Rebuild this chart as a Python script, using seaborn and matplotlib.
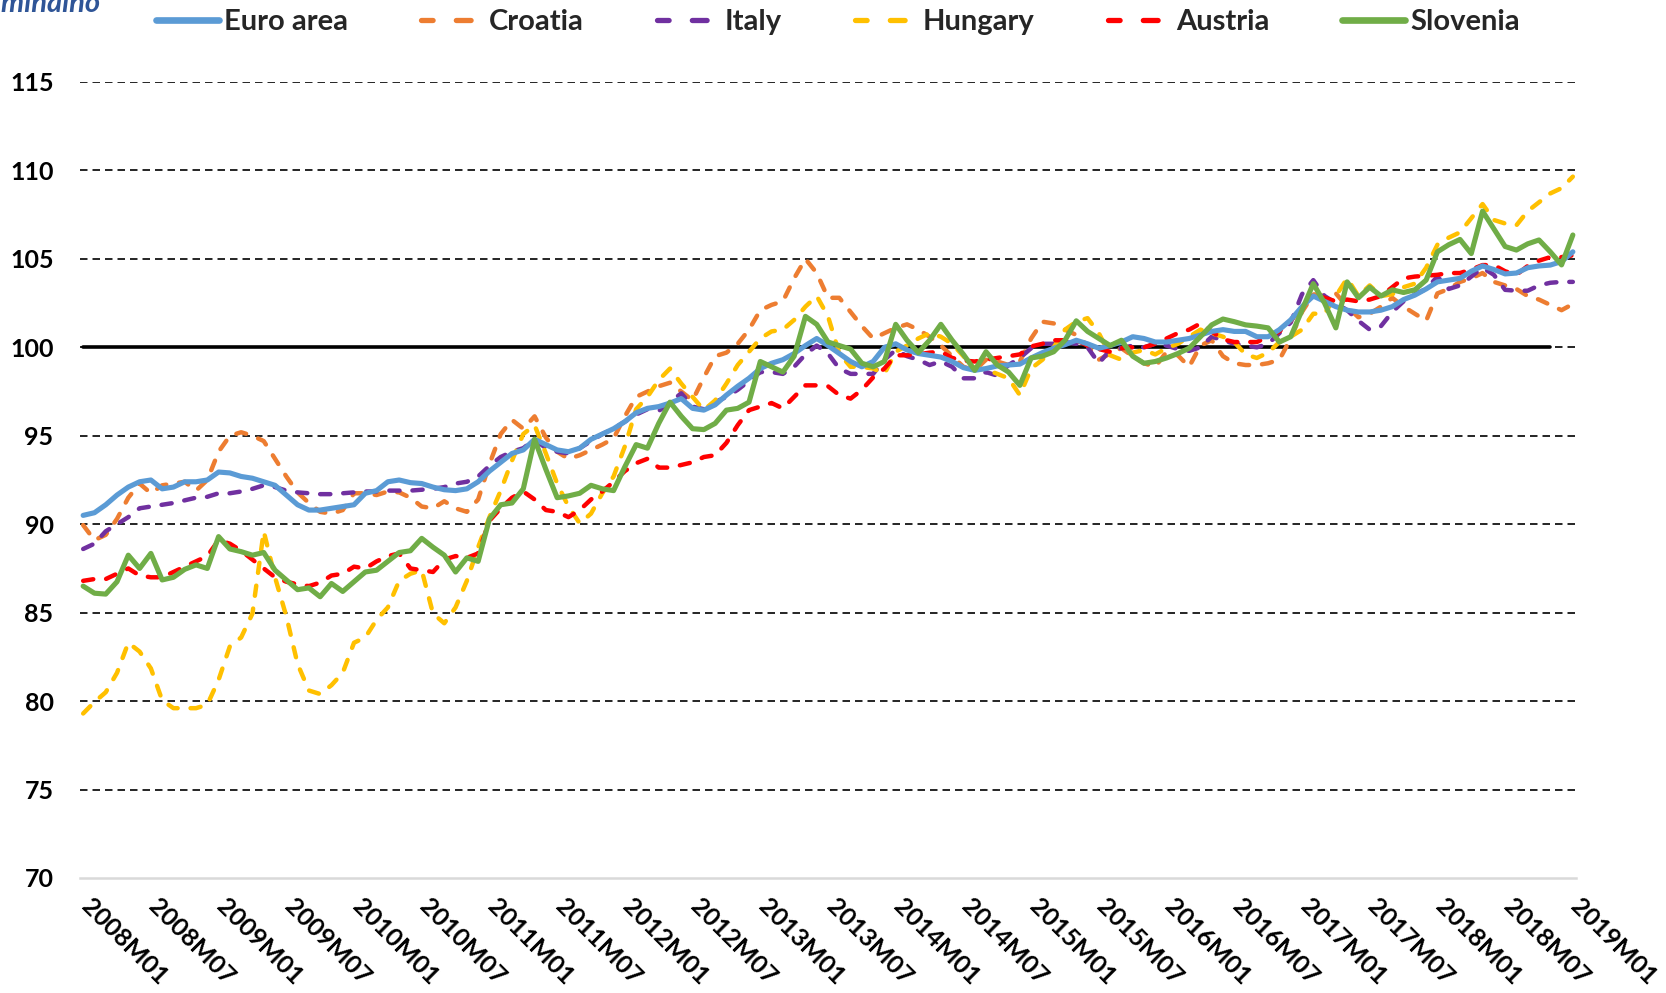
import numpy as np
import pandas as pd
import matplotlib
matplotlib.use("Agg")
import matplotlib.pyplot as plt
import matplotlib.transforms as mtransforms
from matplotlib.lines import Line2D
import seaborn as sns

# ---------------- data ----------------
years = list(range(2008, 2019))
months = [f"{y}M{m:02d}" for y in years for m in range(1, 13)] + ["2019M01"]
tick_labels = [months[i] for i in range(0, len(months), 6)]

euro_area = [90.5, 90.65, 91.1, 91.65, 92.1, 92.4, 92.5, 92.0, 92.1, 92.4, 92.4, 92.5,
             92.95, 92.9, 92.7, 92.6, 92.4, 92.2, 91.65, 91.1, 90.8, 90.8, 90.9, 91.0,
             91.1, 91.75, 91.9, 92.4, 92.5, 92.35, 92.3, 92.1, 91.95, 91.9, 92.0, 92.4,
             93.0, 93.5, 94.0, 94.2, 94.8, 94.5, 94.2, 94.1, 94.3, 94.8, 95.1, 95.4,
             95.8, 96.3, 96.55, 96.65, 96.85, 97.1, 96.55, 96.45, 96.75, 97.3, 97.8, 98.25,
             98.8, 99.1, 99.3, 99.65, 100.1, 100.5, 100.1, 99.65, 99.2, 98.9, 99.2, 100.0,
             100.2, 99.85, 99.65, 99.55, 99.45, 99.2, 98.85, 98.7, 98.8, 98.95, 99.0, 99.05,
             99.4, 99.7, 99.95, 100.15, 100.4, 100.2, 99.95, 100.1, 100.3, 100.6, 100.5, 100.3,
             100.3, 100.4, 100.5, 100.7, 100.9, 101.0, 100.9, 100.9, 100.6, 100.6, 101.0, 101.55,
             102.3, 102.9, 102.6, 102.3, 102.1, 102.0, 102.0, 102.1, 102.3, 102.7, 102.95, 103.3,
             103.7, 103.8, 103.9, 104.3, 104.6, 104.4, 104.15, 104.2, 104.5, 104.6, 104.65, 104.85,
             105.4]

croatia = [89.95, 89.1, 89.4, 90.3, 91.5, 92.3, 91.75, 92.2, 92.3, 92.4, 91.9, 92.5,
           94.1, 95.0, 95.2, 95.0, 94.7, 93.7, 92.7, 91.8, 91.2, 90.7, 90.6, 90.8,
           91.75, 91.75, 91.65, 91.85, 91.8, 91.5, 91.0, 90.9, 91.3, 90.9, 90.7, 91.4,
           93.4, 95.1, 95.9, 95.4, 96.1, 94.9, 94.1, 93.7, 93.9, 94.2, 94.5, 94.85,
           96.1, 97.2, 97.5, 97.8, 98.0, 97.5, 97.0, 98.3, 99.5, 99.7, 100.2, 101.0,
           102.1, 102.4, 102.6, 103.9, 105.0, 104.2, 102.8, 102.8, 102.0, 101.2, 100.5, 100.8,
           101.1, 101.3, 101.0, 100.6, 100.1, 99.5, 98.9, 98.7, 99.3, 99.2, 99.0, 99.2,
           100.5, 101.45, 101.35, 101.0, 100.7, 100.1, 99.3, 99.65, 99.95, 99.5, 99.1, 98.9,
           99.75, 99.55, 98.9, 100.1, 100.4, 99.5, 99.1, 99.0, 99.0, 99.1, 99.3, 100.5,
           102.0, 103.0, 102.9, 103.05, 102.3, 101.7, 101.9, 102.3, 102.8, 102.3, 101.9, 101.5,
           103.05, 103.3, 103.7, 103.9, 104.2, 103.7, 103.5, 103.3, 102.9, 102.7, 102.4, 102.1,
           102.45]

italy = [88.6, 88.9, 89.6, 90.0, 90.4, 90.9, 91.0, 91.1, 91.2, 91.35, 91.5, 91.55,
         91.75, 91.75, 91.85, 92.0, 92.2, 92.1, 91.9, 91.8, 91.75, 91.7, 91.7, 91.75,
         91.8, 91.85, 91.85, 91.9, 91.9, 91.9, 91.95, 92.0, 92.1, 92.3, 92.4, 92.7,
         93.3, 93.8, 94.1, 94.3, 94.8, 94.3, 94.1, 94.0, 94.3, 94.7, 95.1, 95.4,
         95.8, 96.2, 96.5, 96.4, 96.9, 97.4, 96.65, 96.5, 96.9, 97.2, 97.6, 98.1,
         98.6, 98.6, 98.5, 98.9, 99.6, 100.1, 99.65, 98.8, 98.5, 98.5, 98.5, 99.3,
         99.85, 99.5, 99.3, 99.0, 99.2, 98.9, 98.25, 98.25, 98.6, 98.4, 99.0, 99.4,
         99.95, 100.2, 100.2, 100.3, 100.2, 100.0, 99.1, 99.85, 99.95, 100.1, 100.0, 100.2,
         100.1, 99.9, 99.8, 100.0, 100.6, 100.4, 100.2, 100.1, 100.0, 100.2, 100.8, 101.4,
         103.0, 103.8, 102.9, 102.5, 102.1, 101.5, 101.0, 101.2, 102.0, 102.6, 103.0, 103.3,
         104.0, 103.3, 103.5, 104.0, 104.5, 104.1, 103.25, 103.2, 103.2, 103.5, 103.65, 103.7,
         103.7]

hungary = [79.3, 79.95, 80.5, 81.6, 83.3, 82.8, 81.85, 80.05, 79.6, 79.6, 79.6, 79.8,
           81.2, 83.1, 83.6, 84.95, 89.6, 87.0, 84.8, 82.1, 80.6, 80.4, 80.9, 81.6,
           83.3, 83.6, 84.6, 85.3, 86.8, 87.2, 87.4, 84.95, 84.4, 85.3, 86.8, 88.7,
           90.4, 91.9, 93.6, 95.1, 95.6, 94.0, 92.3, 91.0, 90.05, 90.6, 91.75, 92.7,
           94.4, 96.5, 97.2, 98.15, 98.8, 97.95, 97.2, 96.45, 97.0, 97.95, 99.0, 99.75,
           100.5, 100.9, 101.0, 101.55, 102.3, 102.9, 101.75, 99.65, 98.9, 98.9, 98.8, 98.5,
           99.75, 100.1, 100.5, 100.8, 100.6, 100.2, 99.5, 98.8, 98.75, 98.5, 98.25, 97.3,
           98.8, 99.3, 100.0, 101.0, 101.45, 101.65, 100.8, 99.55, 99.3, 99.7, 99.85, 99.6,
           99.95, 100.2, 100.6, 101.0, 100.8, 100.6, 100.3, 99.6, 99.4, 99.7, 100.3, 100.6,
           101.0, 101.9, 101.9, 102.9, 103.9, 102.9, 103.5, 102.9, 103.0, 103.4, 103.6, 104.5,
           105.8, 106.2, 106.5, 107.3, 108.1, 107.2, 107.0, 106.9, 107.7, 108.2, 108.7, 109.0,
           109.65]

austria = [86.8, 86.9, 86.9, 87.2, 87.5, 87.1, 87.0, 87.0, 87.3, 87.6, 87.9, 88.2,
           89.1, 88.9, 88.5, 88.0, 87.5, 87.0, 86.75, 86.6, 86.5, 86.7, 87.1, 87.2,
           87.6, 87.5, 87.9, 88.2, 88.35, 87.5, 87.4, 87.3, 88.0, 88.2, 88.1, 88.35,
           90.2, 90.9, 91.5, 91.85, 91.4, 90.8, 90.7, 90.4, 90.8, 91.4, 91.85, 92.4,
           93.0, 93.45, 93.7, 93.2, 93.2, 93.35, 93.5, 93.8, 93.9, 94.6, 95.6, 96.45,
           96.65, 96.85, 96.55, 97.2, 97.85, 97.85, 97.8, 97.3, 97.1, 97.6, 98.3, 98.8,
           99.55, 99.55, 99.6, 99.7, 99.75, 99.4, 99.25, 99.2, 99.3, 99.4, 99.5, 99.6,
           100.05, 100.2, 100.4, 100.4, 100.4, 100.1, 99.9, 99.75, 99.95, 100.0, 100.0, 100.2,
           100.5, 100.8, 101.0, 101.35, 100.9, 100.45, 100.3, 100.3, 100.3, 100.6, 100.9, 101.5,
           102.3, 103.0, 102.8, 102.6, 102.7, 102.6, 102.7, 102.9, 103.4, 103.9, 104.0, 104.05,
           104.1, 104.2, 104.2, 104.4, 104.65, 104.65, 104.3, 104.1, 104.6, 104.9, 105.1, 105.1,
           105.2]

slovenia = [86.5, 86.1, 86.05, 86.75, 88.25, 87.5, 88.35, 86.85, 87.0, 87.45, 87.7, 87.5,
            89.3, 88.6, 88.45, 88.25, 88.4, 87.4, 86.85, 86.3, 86.4, 85.9, 86.65, 86.2,
            86.75, 87.3, 87.4, 87.9, 88.4, 88.5, 89.2, 88.7, 88.25, 87.3, 88.1, 87.9,
            90.3, 91.1, 91.2, 92.0, 94.8, 93.1, 91.5, 91.6, 91.75, 92.2, 92.0, 91.9,
            93.25, 94.5, 94.3, 95.7, 96.9, 96.1, 95.4, 95.35, 95.7, 96.45, 96.55, 96.9,
            99.2, 98.9, 98.6, 99.5, 101.75, 101.3, 100.3, 100.1, 99.9, 99.1, 98.9, 99.2,
            101.3, 100.4, 99.7, 100.4, 101.3, 100.4, 99.6, 98.7, 99.75, 99.0, 98.6, 97.85,
            99.4, 99.5, 99.75, 100.4, 101.5, 100.9, 100.5, 100.1, 100.4, 99.5, 99.1, 99.2,
            99.4, 99.65, 99.95, 100.6, 101.27, 101.6, 101.45, 101.27, 101.2, 101.1, 100.3, 100.6,
            102.1, 103.6, 102.5, 101.1, 103.7, 102.8, 103.4, 102.9, 103.25, 103.1, 103.25, 103.8,
            105.4, 105.8, 106.1, 105.3, 107.7, 106.7, 105.7, 105.5, 105.85, 106.07, 105.4, 104.66,
            106.35]

reference_100 = [100.0] * 131  # black reference line, 2008M01-2018M11

series_names = ["Euro area", "Croatia", "Italy", "Hungary", "Austria", "Slovenia"]
series_values = [euro_area, croatia, italy, hungary, austria, slovenia]
series_colors = ["#5B9BD5", "#ED7D31", "#7030A0", "#FFC000", "#FF0000", "#70AD47"]
series_dashed = [False, True, True, True, True, False]

y_ticks = [70, 75, 80, 85, 90, 95, 100, 105, 110, 115]

# ---------------- plot ----------------
sns.set_theme(style="white")
plt.rcParams["font.family"] = ["Lato", "DejaVu Sans"]

W, H = 1666, 993
fig = plt.figure(figsize=(W / 100, H / 100), dpi=100)
ax = fig.add_axes([80 / W, 1 - 878 / H, (1576 - 80) / W, (878 - 82) / H])

x_all = np.arange(len(months))

# dashed gridlines
for yv in y_ticks[1:]:
    ax.axhline(yv, color="black", lw=1.2, ls=(0, (4.5, 3.0)), zorder=1)

# reference 100 line
sns.lineplot(x=np.arange(len(reference_100)), y=reference_100, ax=ax,
             color="black", lw=2.6, zorder=2, legend=False)

lw_solid = 3.7
lw_dash = 3.2
dash_pat = (0, (2.3, 2.9))
handles = []
for name, vals, col, dashed in zip(series_names, series_values, series_colors, series_dashed):
    df = pd.DataFrame({"t": x_all, "v": vals})
    if dashed:
        sns.lineplot(data=df, x="t", y="v", ax=ax, color=col, lw=lw_dash,
                     linestyle=dash_pat, dash_capstyle="round", zorder=3, legend=False)
        handles.append(Line2D([0], [0], color=col, lw=3.8,
                              linestyle=(0.6, (2.8, 4.4)), dash_capstyle="round", label=name))
    else:
        sns.lineplot(data=df, x="t", y="v", ax=ax, color=col, lw=lw_solid,
                     solid_capstyle="round", solid_joinstyle="round", zorder=4, legend=False)
        handles.append(Line2D([0], [0], color=col, lw=4.8,
                              solid_capstyle="round", label=name))

ax.set_xlim(-0.28, len(months) - 1 + 0.28)
ax.set_ylim(70, 115)
ax.set_yticks(y_ticks)
ax.set_yticklabels([str(v) for v in y_ticks])
ax.set_xticks(list(range(0, len(months), 6)))
ax.set_xticklabels(tick_labels, rotation=-45, ha="left", va="top", rotation_mode="anchor")
ax.set_xlabel("")
ax.set_ylabel("")

for sp in ["top", "right", "left"]:
    ax.spines[sp].set_visible(False)
ax.spines["bottom"].set_color("#D9D9D9")
ax.spines["bottom"].set_linewidth(1.8)
ax.spines["bottom"].set_zorder(0.5)

ax.tick_params(axis="y", length=0, pad=19, labelsize=18)
ax.tick_params(axis="x", length=0, pad=12, labelsize=18)
offset = mtransforms.ScaledTranslation(10 / 100, 0, fig.dpi_scale_trans)
for lab in ax.get_xticklabels():
    lab.set_transform(lab.get_transform() + offset)
for lab in ax.get_yticklabels() + ax.get_xticklabels():
    lab.set_fontweight("bold")
    lab.set_color("black")

# legend at top
fig.legend(handles=handles, loc="center", bbox_to_anchor=(0.503, 1 - 22 / H), ncol=6,
           frameon=False, prop={"weight": "bold", "size": 21}, handlelength=2.16,
           handletextpad=0.17, columnspacing=2.5, borderaxespad=0)

# partially cut title text at top-left (cut off by the image edge, as in the original)
fig.text(101 / W, 1 - 12 / H, "nominalno", ha="right", va="baseline",
         style="italic", weight="bold", color="#2F5597", size=21)

fig.savefig("out.png", dpi=100)
